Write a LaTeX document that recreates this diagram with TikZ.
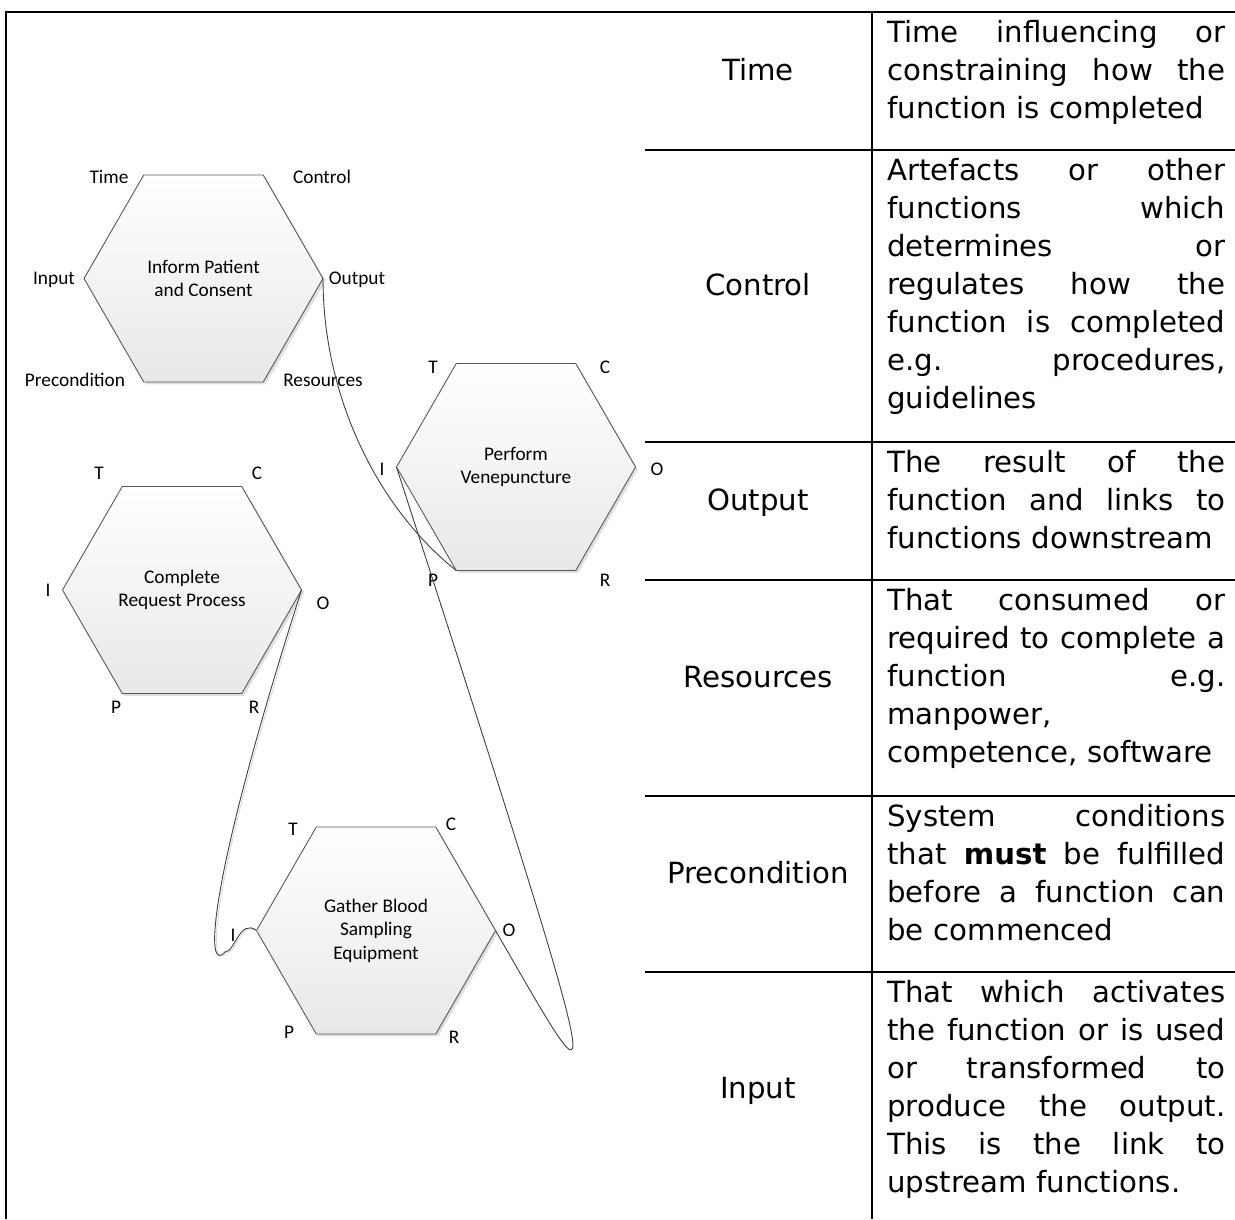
\documentclass[tikz,border=0pt]{standalone}
\usepackage{fontspec}
\usepackage{tikz}
\usetikzlibrary{shapes.geometric,shadows}
\newfontfamily\carlito{Carlito}
\newfontfamily\dejavu{DejaVu Sans}
\newlength\desccolw
\setlength\desccolw{169pt}
\newcommand\jline[1]{{\spaceskip=0pt\relax\xspaceskip=0pt\relax\makebox[\desccolw][s]{#1}}}

\tikzset{
    fnhex/.style={regular polygon, regular polygon sides=6, minimum size=119.5pt,
        inner sep=0pt, outer sep=0pt, draw=black!65, line width=0.45pt,
        top color=white, bottom color=black!9,
        drop shadow={shadow xshift=1.2pt, shadow yshift=-1.2pt, fill=black!25, opacity=0.5},
        align=center, font=\carlito\fontsize{9.65}{11.7}\selectfont},
    aspect/.style={inner sep=0pt, text height=6.2pt, text depth=0pt,
        font=\carlito\fontsize{9.65}{11.7}\selectfont},
    link/.style={draw=black!75, line width=0.45pt},
    faintlink/.style={link, preaction={draw=black!15, line width=0.45pt,
        transform canvas={xshift=0.9pt,yshift=-0.4pt}}},
    rowlabel/.style={inner sep=0pt, text height=10.65pt, text depth=0pt,
        font=\dejavu\fontsize{14.6}{19}\selectfont},
    desc/.style={anchor=north west, inner sep=0pt, text width=\desccolw, align=left,
        font=\dejavu\fontsize{14.6}{19}\selectfont},
    tabrule/.style={line width=1.2pt}
}

\begin{document}
\begin{tikzpicture}[x=0.5pt,y=-0.5pt]
    \useasboundingbox (0,0) rectangle (1235,1219);

    % table
    \draw[tabrule] (6,1219) -- (6,12) -- (1235,12);
    \draw[tabrule] (872,12) -- (872,1219);
    \draw[tabrule] (645,150) -- (1235,150);
    \draw[tabrule] (645,442) -- (1235,442);
    \draw[tabrule] (645,580) -- (1235,580);
    \draw[tabrule] (645,796) -- (1235,796);
    \draw[tabrule] (645,972) -- (1235,972);

    \node[rowlabel] (labtime) at (758,70) {Time};
    \node[rowlabel] (labcontrol) at (758,285) {Control};
    \node[rowlabel] (laboutput) at (758,500) {Output};
    \node[rowlabel] (labresources) at (758,677) {Resources};
    \node[rowlabel] (labprecondition) at (758,873) {Precondition};
    \node[rowlabel] (labinput) at (758,1088) {Input};

    \node[desc] (desctime) at (887,19.5) {\jline{Time influencing or}\\\jline{constraining how the}\\function is completed};
    \node[desc] (desccontrol) at (887,157.5) {\jline{Artefacts or other}\\\jline{functions which}\\\jline{determines or}\\\jline{regulates how the}\\\jline{function is completed}\\\jline{e.g. procedures,}\\guidelines};
    \node[desc] (descoutput) at (887,449.5) {\jline{The result of the}\\\jline{function and links to}\\functions downstream};
    \node[desc] (descresources) at (887,587.5) {\jline{That consumed or}\\\jline{required to complete a}\\\jline{function e.g.}\\manpower,\\competence, software};
    \node[desc] (descprecondition) at (887,803.5) {\jline{System conditions}\\\jline{that \textbf{must} be fulfilled}\\\jline{before a function can}\\be commenced};
    \node[desc] (descinput) at (887,979.5) {\jline{That which activates}\\\jline{the function or is used}\\\jline{or transformed to}\\\jline{produce the output.}\\\jline{This is the link to}\\upstream functions.};

    % functions
    \node[fnhex] (inform) at (203.5,278.5) {Inform Patient\\and Consent};
    \node[aspect] (informT) at (109,177) {Time};
    \node[aspect] (informC) at (322,177) {Control};
    \node[aspect] (informI) at (54,278) {Input};
    \node[aspect] (informO) at (357,278) {Output};
    \node[aspect] (informP) at (75,380) {Precondition};
    \node[aspect] (informR) at (323,380) {Resources};

    \node[fnhex] (perform) at (516,467) {Perform\\Venepuncture};
    \node[aspect] (performT) at (433,367) {T};
    \node[aspect] (performC) at (605,367) {C};
    \node[aspect] (performI) at (382,469) {I};
    \node[aspect] (performO) at (657,469) {O};
    \node[aspect] (performP) at (433,580) {P};
    \node[aspect] (performR) at (605,580) {R};

    \node[fnhex] (complete) at (182,590) {Complete\\Request Process};
    \node[aspect] (completeT) at (99,473) {T};
    \node[aspect] (completeC) at (257,473) {C};
    \node[aspect] (completeI) at (48,590) {I};
    \node[aspect] (completeO) at (323,603) {O};
    \node[aspect] (completeP) at (116,707) {P};
    \node[aspect] (completeR) at (254,707) {R};

    \node[fnhex] (gather) at (376,930.5) {Gather Blood\\Sampling\\Equipment};
    \node[aspect] (gatherT) at (293,829) {T};
    \node[aspect] (gatherC) at (451,824) {C};
    \node[aspect] (gatherI) at (233,935) {I};
    \node[aspect] (gatherO) at (509,930) {O};
    \node[aspect] (gatherP) at (289,1032) {P};
    \node[aspect] (gatherR) at (454,1037) {R};

    % couplings
    \coordinate (dip) at (225,952);
    \draw[link] (inform.0) .. controls (323,400) and (380,510) .. (perform.240);
    \draw[faintlink] (complete.0) .. controls (206,889) and (205,975) .. (dip) .. controls (235,952) and (240,918) .. (gather.180);
    \draw[link] (gather.0) .. controls (605,1120) and (620,1160) .. (perform.180);
\end{tikzpicture}
\end{document}
